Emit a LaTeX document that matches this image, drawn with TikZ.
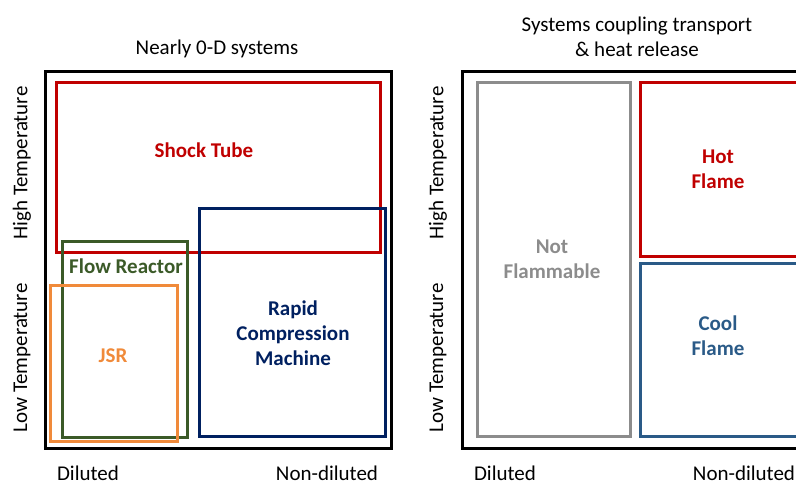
\documentclass[tikz,border=0pt]{standalone}
\usepackage{fontspec}
\setmainfont{Carlito}
\usepackage{tikz}

\definecolor{stred}{HTML}{C00000}
\definecolor{rcmblue}{HTML}{002060}
\definecolor{frgreen}{HTML}{3B5A28}
\definecolor{jsrorange}{HTML}{F08A3A}
\definecolor{nfgrey}{HTML}{8C8C8C}
\definecolor{cfblue}{HTML}{2A5A87}

\tikzset{
  frame/.style={draw=black,line width=3pt},
  regime/.style={line width=3pt},
  lbl/.style={font=\fontsize{21}{25}\selectfont\bfseries,align=center},
  axis/.style={font=\fontsize{21}{25}\selectfont},
  ylab/.style={font=\fontsize{21}{25}\selectfont,rotate=90},
  xlab/.style={font=\fontsize{21}{25}\selectfont,anchor=base}
}

\begin{document}
\begin{tikzpicture}[x=1pt,y=-1pt]
\useasboundingbox (0,0) rectangle (796,483);
% left panel
\node [axis] (t1) at (217,49) {Nearly 0-D systems};
\draw [frame] (45,71) rectangle (391,448);
\draw [regime,draw=stred] (56,82) rectangle (380,252);
\draw [regime,draw=rcmblue] (199,208) rectangle (385,436);
\draw [regime,draw=frgreen] (62,241) rectangle (187,437);
\draw [regime,draw=jsrorange] (50,285) rectangle (177,441);
\node [lbl,text=stred] (st) at (204,150) {Shock Tube};
\node [lbl,text=frgreen] (fr) at (126,266) {Flow Reactor};
\node [lbl,text=jsrorange] (jsr) at (113,356) {JSR};
\node [lbl,text=rcmblue] (rcm) at (293,333) {Rapid\\Compression\\Machine};
\node [ylab] (h1) at (22,163) {High Temperature};
\node [ylab] (l1) at (22,358) {Low Temperature};
\node [xlab] (d1) at (88,480) {Diluted};
\node [xlab] (n1) at (327,480) {Non-diluted};
% right panel
\node [axis,align=center] (t2) at (637,37) {Systems coupling transport\\\& heat release};
\draw [frame] (462,71) rectangle (820,448);
\draw [regime,draw=nfgrey] (477,82) rectangle (630,436);
\draw [regime,draw=stred] (640,82) rectangle (810,256);
\draw [regime,draw=cfblue] (640,263) rectangle (810,436);
\node [lbl,text=nfgrey] (nf) at (552,259) {Not\\Flammable};
\node [lbl,text=stred] (hf) at (718,169) {Hot\\Flame};
\node [lbl,text=cfblue] (cf) at (718,336) {Cool\\Flame};
\node [ylab] (h2) at (438,163) {High Temperature};
\node [ylab] (l2) at (438,358) {Low Temperature};
\node [xlab] (d2) at (505,480) {Diluted};
\node [xlab] (n2) at (744,480) {Non-diluted};
\end{tikzpicture}
\end{document}
